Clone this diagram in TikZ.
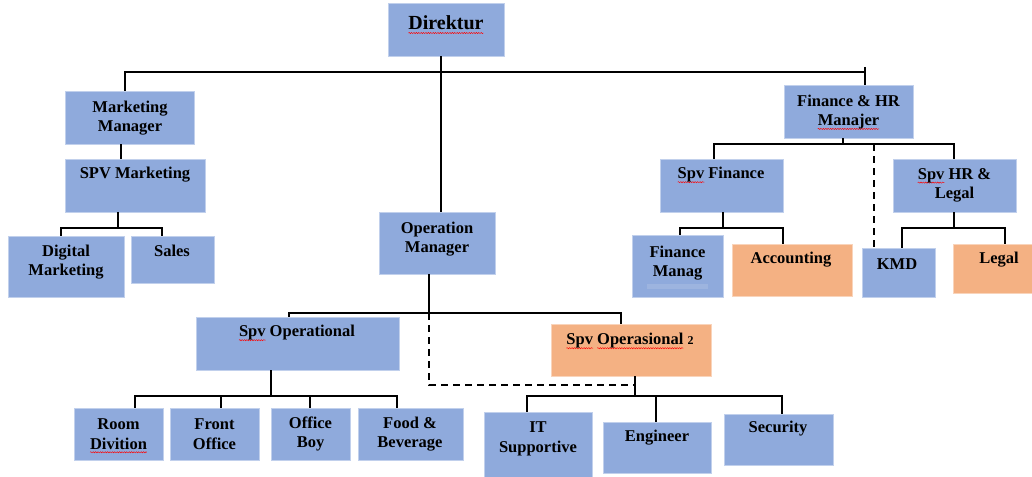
\documentclass[tikz,border=0pt]{standalone}
\usepackage{fontspec}
\setmainfont{Liberation Serif}
\usetikzlibrary{fit,decorations.pathmorphing}
\definecolor{bblue}{HTML}{8FAADC}
\definecolor{borange}{HTML}{F4B183}
\definecolor{fmbar}{HTML}{9DB4DF}
\newlength\splw
\newcommand\spl[1]{\setbox0\hbox{#1}\setlength\splw{\wd0}\rlap{\tikz[overlay,x=1pt,y=1pt]\draw[red,line width=0.45pt,decorate,decoration={snake,amplitude=0.6pt,segment length=2.4pt}] (0pt,-3.2pt) -- (\splw,-3.2pt);}#1}
\tikzset{
  box/.style={inner sep=0pt, draw=bblue!55!white, line width=0.6pt},
  bluebox/.style={box, fill=bblue},
  orangebox/.style={box, fill=borange, draw=borange!55!white},
  txt/.style={align=center, inner sep=0pt, font=\bfseries\fontsize{16.5}{19.5}\selectfont},
  conn/.style={line width=2pt, black},
  dconn/.style={line width=2pt, black, dash pattern=on 7pt off 5pt},
}
\begin{document}
\begin{tikzpicture}[x=1pt,y=-1pt]
\useasboundingbox (0,0) rectangle (1032,476);
% boxes
\node[bluebox, fit={(388,3)(504,56)}] (dir) {};
\node[bluebox, fit={(65,91)(194,144)}] (mm) {};
\node[bluebox, fit={(65,159)(205,212)}] (spvm) {};
\node[bluebox, fit={(8,236)(124,297)}] (dm) {};
\node[bluebox, fit={(131,236)(214,283)}] (sales) {};
\node[bluebox, fit={(379,212)(495,274)}] (om) {};
\node[bluebox, fit={(196,317)(399,370)}] (spvo) {};
\node[orangebox, fit={(551,324)(711,376)}] (spvo2) {};
\node[bluebox, fit={(74,408)(163,460)}] (rd) {};
\node[bluebox, fit={(170,408)(259,460)}] (fo) {};
\node[bluebox, fit={(271,408)(350,460)}] (ob) {};
\node[bluebox, fit={(358,408)(463,460)}] (fb) {};
\node[bluebox, fit={(484,412)(592,477)}] (it) {};
\node[bluebox, fit={(603,422)(711,473)}] (eng) {};
\node[bluebox, fit={(724,414)(833,465)}] (sec) {};
\node[bluebox, fit={(784,85)(913,138)}] (fhr) {};
\node[bluebox, fit={(660,159)(783,212)}] (spvf) {};
\node[bluebox, fit={(893,159)(1016,212)}] (spvhr) {};
\node[bluebox, fit={(632,235)(723,297)}] (fm) {};
\node[inner sep=0pt, fill=fmbar, fit={(647,284)(708,289)}] (fmb) {};
\node[orangebox, fit={(732,244)(852,296)}] (acc) {};
\node[bluebox, fit={(862,248)(935,297)}] (kmd) {};
\node[orangebox, fit={(953,244)(1033,293)}] (legal) {};
% texts
\node[txt, font=\bfseries\fontsize{20}{24}\selectfont] (dir-t) at (446,23) {\spl{Direktur}};
\node[txt] (mm-t) at (130,118) {Marketing\\Manager};
\node[txt] (spvm-t) at (135,175) {SPV Marketing};
\node[txt] (dm-t) at (66,262) {Digital\\Marketing};
\node[txt] (sales-t) at (172,251) {Sales};
\node[txt] (om-t) at (437,239) {Operation\\Manager};
\node[txt] (spvo-t) at (297,333) {\spl{Spv} Operational};
\node[txt] (spvo2-t) at (630,341) {\spl{Spv} \spl{Operasional} {\fontsize{12}{12}\selectfont 2}};
\node[txt] (rd-t) at (118.5,434) {Room\\\spl{Divition}};
\node[txt] (fo-t) at (214.5,434) {Front\\Office};
\node[txt] (ob-t) at (310.5,434) {Office\\Boy};
\node[txt] (fb-t) at (410,434) {Food \&\\Beverage};
\node[txt] (it-t) at (538,439) {IT\\Supportive};
\node[txt] (eng-t) at (657,438) {Engineer};
\node[txt] (sec-t) at (778,429) {Security};
\node[txt] (fhr-t) at (848.5,112) {Finance \& HR\\\spl{Manajer}};
\node[txt] (spvf-t) at (721,175) {\spl{Spv} Finance};
\node[txt] (spvhr-t) at (954.5,185.5) {\spl{Spv} HR \&\\Legal};
\node[txt] (fm-t) at (677.5,263) {Finance\\Manag};
\node[txt] (acc-t) at (791,260) {Accounting};
\node[txt] (kmd-t) at (897,264) {KMD};
\node[txt] (legal-t) at (999,260) {Legal};
% junction coordinates
\coordinate (b1L) at (125,72);
\coordinate (b1R) at (865,72);
\coordinate (b1T) at (865,67);
\coordinate (b1D) at (441,72);
\coordinate (xmm) at (121,0);
\coordinate (bmL) at (61,228);
\coordinate (bmR) at (162,228);
\coordinate (bmC) at (118,228);
\coordinate (bfC) at (843,144);
\coordinate (bfL) at (714,144);
\coordinate (bfR) at (954,144);
\coordinate (bfD) at (874,144);
\coordinate (bsfC) at (723,228);
\coordinate (bsfL) at (680,228);
\coordinate (bsfR) at (783,228);
\coordinate (bshC) at (954,228);
\coordinate (bshL) at (902,228);
\coordinate (bshR) at (1005,228);
\coordinate (boC) at (429,313);
\coordinate (boL) at (289,313);
\coordinate (boR) at (621,313);
\coordinate (bdC) at (429,385);
\coordinate (bdR) at (635,385);
\coordinate (b2C) at (635,396);
\coordinate (b2L) at (527,396);
\coordinate (b2M) at (656,396);
\coordinate (b2R) at (782,396);
\coordinate (b3C) at (271,396);
\coordinate (b3A) at (135,396);
\coordinate (b3B) at (221,396);
\coordinate (b3D) at (310,396);
\coordinate (b3E) at (397,396);
% connectors
\draw[conn] (mm.north -| b1L) -- (b1L) -- (b1R) -- (fhr.north -| b1R);
\draw[conn] (b1T) -- (b1R);
\draw[conn] (dir.south -| b1D) -- (om.north -| b1D);
\draw[conn] (mm.south -| xmm) -- (spvm.north -| xmm);
\draw[conn] (spvm.south -| bmC) -- (bmC);
\draw[conn] (dm.north -| bmL) -- (bmL) -- (bmR) -- (sales.north -| bmR);
\draw[conn] (fhr.south -| bfC) -- (bfC);
\draw[conn] (spvf.north -| bfL) -- (bfL) -- (bfR) -- (spvhr.north -| bfR);
\draw[dconn] (bfD) -- (kmd.north -| bfD);
\draw[conn] (spvf.south -| bsfC) -- (bsfC);
\draw[conn] (fm.north -| bsfL) -- (bsfL) -- (bsfR) -- (acc.north -| bsfR);
\draw[conn] (spvhr.south -| bshC) -- (bshC);
\draw[conn] (kmd.north -| bshL) -- (bshL) -- (bshR) -- (legal.north -| bshR);
\draw[conn] (om.south -| boC) -- (boC);
\draw[conn] (spvo.north -| boL) -- (boL) -- (boR) -- (spvo2.north -| boR);
\draw[dconn] (boC) -- (bdC) -- (bdR);
\draw[conn] (spvo2.south -| b2C) -- (b2C);
\draw[conn] (it.north -| b2L) -- (b2L) -- (b2R) -- (sec.north -| b2R);
\draw[conn] (b2M) -- (eng.north -| b2M);
\draw[conn] (spvo.south -| b3C) -- (b3C);
\draw[conn] (rd.north -| b3A) -- (b3A) -- (b3E) -- (fb.north -| b3E);
\draw[conn] (b3B) -- (fo.north -| b3B);
\draw[conn] (b3D) -- (ob.north -| b3D);
\end{tikzpicture}
\end{document}
